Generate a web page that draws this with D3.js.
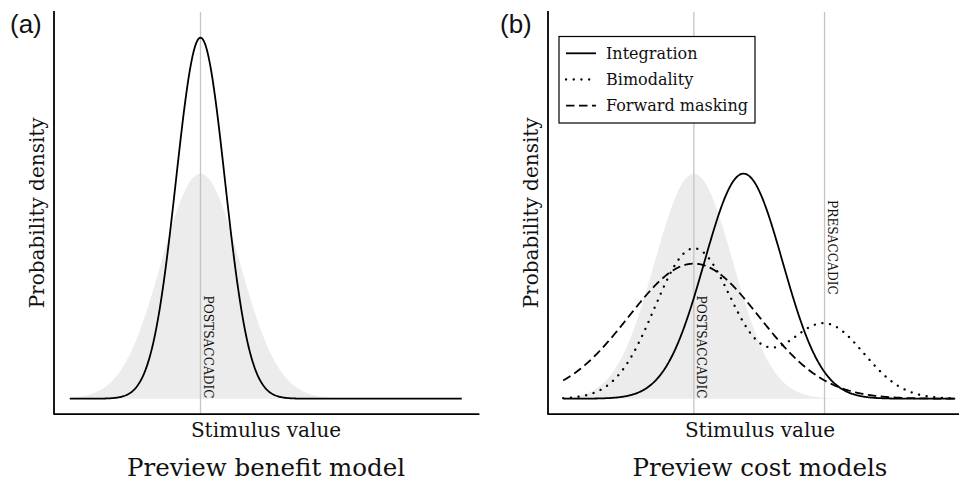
<!DOCTYPE html>
<html>
<head>
<meta charset="utf-8">
<script src="https://cdn.jsdelivr.net/npm/d3@7"></script>
<style>
  html, body { margin: 0; padding: 0; background: #fff; }
  svg { display: block; }
</style>
</head>
<body>
<script>
// ---------------- data ----------------
const panelLabels = ["(a)", "(b)"];
const panelTitles = ["Preview benefit model", "Preview cost models"];
const xAxisLabel = "Stimulus value";
const yAxisLabel = "Probability density";
const stimulusDomain = [-1, 2];

// postsaccadic stimulus distribution (grey area), both panels
const postMean = 0;
const postSd = 0.3;
// presaccadic stimulus value (panel b only)
const preMean = 1;

// panel (a): preview benefit model
const benefitMeans = [0];
const benefitSds = [0.187];
const benefitWeights = [1];

// panel (b): preview cost models (mixtures of normals)
const costNames = ["Integration", "Bimodality", "Forward masking"];
const costMeans = [[0.38], [0, 1], [0]];
const costSds = [[0.3], [0.3, 0.3], [0.5]];
const costWeights = [[1], [0.667, 0.333], [1]];

const refLabels = ["POSTSACCADIC", "PRESACCADIC"];

// ---------------- layout ----------------
const W = 959, H = 481;
const panelLeft = [54, 548];
const panelPad = [15.8, 15.2];
const panelW = 424;
const plotTop = 12, plotBottom = 413.7;
const serif = "'DejaVu Serif', serif";

const svg = d3.select("body").append("svg").attr("width", W).attr("height", H);

const y = d3.scaleLinear().domain([-0.0887, 2.285]).range([plotBottom, plotTop]);
const xs = d3.range(stimulusDomain[0], stimulusDomain[1] + 1e-9, 0.005);

function normPdf(x, m, s) {
  return Math.exp(-0.5 * ((x - m) / s) ** 2) / (s * Math.sqrt(2 * Math.PI));
}
function mixture(means, sds, weights) {
  return xs.map(v => [v, d3.sum(means, (m, i) => weights[i] * normPdf(v, m, sds[i]))]);
}

const styles = {
  "Integration": { dash: null, cap: "butt", w: 1.8 },
  "Bimodality": { dash: "0.1,7.6", cap: "round", w: 2.3 },
  "Forward masking": { dash: "8.5,4.5", cap: "butt", w: 1.8 },
  "Benefit": { dash: null, cap: "butt", w: 1.8 }
};

function drawPanel(p) {
  const g = svg.append("g");
  const x0 = panelLeft[p];
  const x = d3.scaleLinear().domain(stimulusDomain)
    .range([x0 + panelPad[p], x0 + panelPad[p] + 392]);

  // grey postsaccadic distribution
  const area = d3.area().x(d => x(d[0])).y0(y(0)).y1(d => y(d[1]));
  g.append("path")
    .datum(mixture([postMean], [postSd], [1]))
    .attr("d", area)
    .attr("fill", "#ebeceb");

  // reference lines
  const refs = p === 0 ? [postMean] : [postMean, preMean];
  refs.forEach(r => {
    g.append("line")
      .attr("x1", x(r)).attr("x2", x(r))
      .attr("y1", plotTop).attr("y2", plotBottom)
      .attr("stroke", "#c4c4c4").attr("stroke-width", 1.3);
  });

  // curves
  const line = d3.line().x(d => x(d[0])).y(d => y(d[1]));
  let series;
  if (p === 0) {
    series = [{ name: "Benefit", data: mixture(benefitMeans, benefitSds, benefitWeights) }];
  } else {
    series = costNames.map((n, i) => ({ name: n, data: mixture(costMeans[i], costSds[i], costWeights[i]) }));
  }
  series.forEach(s => {
    const st = styles[s.name];
    g.append("path")
      .datum(s.data)
      .attr("d", line)
      .attr("fill", "none")
      .attr("stroke", "#000")
      .attr("stroke-width", st.w)
      .attr("stroke-linecap", st.cap)
      .attr("stroke-dasharray", st.dash);
  });

  // reference labels (rotated, reading downward)
  g.append("text")
    .attr("transform", `translate(${x(postMean) + 3.6},${y(0)}) rotate(90)`)
    .attr("text-anchor", "end")
    .attr("font-family", serif).attr("font-size", 12.2)
    .attr("fill", "#111")
    .text(refLabels[0]);
  if (p === 1) {
    g.append("text")
      .attr("transform", `translate(${x(preMean) + 3.6},200) rotate(90)`)
      .attr("text-anchor", "start")
      .attr("font-family", serif).attr("font-size", 12.2)
      .attr("fill", "#111")
      .text(refLabels[1]);
  }

  // axes (left & bottom spines)
  const yAxis = d3.axisLeft(y).tickValues([]).tickSizeOuter(0);
  const xAxis = d3.axisBottom(d3.scaleLinear().domain(stimulusDomain).range([x0, x0 + panelW]))
    .tickValues([]).tickSizeOuter(0);
  const ya = g.append("g").attr("transform", `translate(${x0},0)`).call(yAxis);
  ya.select(".domain").attr("d", `M0,${plotTop}V${plotBottom}`).attr("stroke-width", 1.8).attr("stroke-linecap", "square");
  const xa = g.append("g").attr("transform", `translate(0,${plotBottom})`).call(xAxis);
  xa.select(".domain").attr("stroke-width", 1.8).attr("stroke-linecap", "square");

  // axis labels
  g.append("text")
    .attr("x", x0 + panelW / 2).attr("y", 436.5)
    .attr("text-anchor", "middle")
    .attr("font-family", serif).attr("font-size", 20)
    .attr("fill", "#111")
    .text(xAxisLabel);
  g.append("text")
    .attr("transform", `translate(${x0 - 10.5},${(plotTop + plotBottom) / 2}) rotate(-90)`)
    .attr("text-anchor", "middle")
    .attr("font-family", serif).attr("font-size", 20)
    .attr("fill", "#111")
    .text(yAxisLabel);

  // title
  g.append("text")
    .attr("x", x0 + panelW / 2).attr("y", 476)
    .attr("text-anchor", "middle")
    .attr("font-family", serif).attr("font-size", 24.5)
    .attr("fill", "#111")
    .text(panelTitles[p]);

  // panel label
  g.append("text")
    .attr("x", p === 0 ? 10 : 500).attr("y", 33)
    .attr("font-family", "'Liberation Sans', Arial, sans-serif").attr("font-size", 26)
    .attr("fill", "#111")
    .text(panelLabels[p]);

  // legend
  if (p === 1) {
    const lg = g.append("g");
    lg.append("rect")
      .attr("x", 559).attr("y", 36.5).attr("width", 196).attr("height", 86.5)
      .attr("fill", "#fff").attr("stroke", "#000").attr("stroke-width", 1.2);
    costNames.forEach((n, i) => {
      const st = styles[n];
      const ly = 53.3 + i * 26.2;
      lg.append("line")
        .attr("x1", 566).attr("x2", 596).attr("y1", ly).attr("y2", ly)
        .attr("stroke", "#000").attr("stroke-width", st.w)
        .attr("stroke-linecap", st.cap)
        .attr("stroke-dasharray", st.dash);
      lg.append("text")
        .attr("x", 606).attr("y", ly + 5.3)
        .attr("font-family", serif).attr("font-size", 16)
        .attr("fill", "#111")
        .text(n);
    });
  }
}

drawPanel(0);
drawPanel(1);
</script>
</body>
</html>
